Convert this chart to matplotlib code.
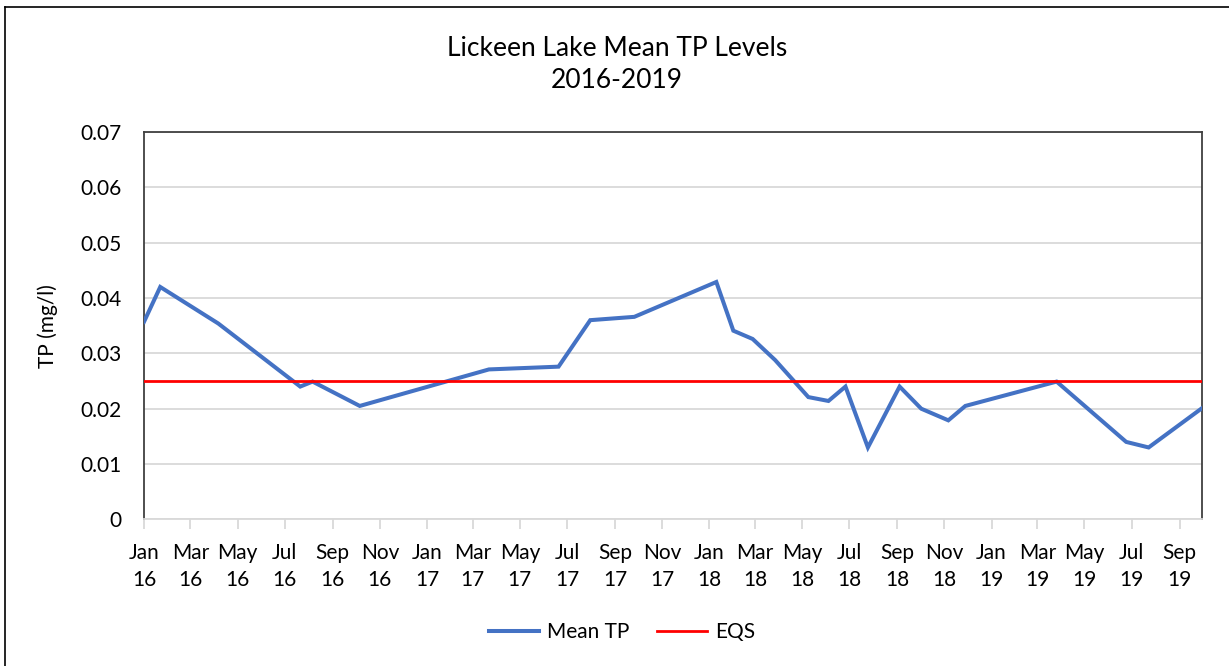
import matplotlib
matplotlib.use("Agg")
import matplotlib.pyplot as plt
import pandas as pd
from matplotlib.lines import Line2D

plt.rcParams["font.family"] = ["Lato", "DejaVu Sans"]

# ----------------------- data -----------------------
sample_dates = [
    "2016-01-01", "2016-01-22", "2016-04-06", "2016-07-21", "2016-08-06",
    "2016-10-06", "2017-03-22", "2017-06-20", "2017-07-31", "2017-09-26",
    "2018-01-10", "2018-02-01", "2018-02-26", "2018-03-27", "2018-05-09",
    "2018-06-04", "2018-06-26", "2018-07-25", "2018-09-04", "2018-10-02",
    "2018-11-06", "2018-11-28", "2019-03-26", "2019-06-24", "2019-07-23",
    "2019-09-30",
]
mean_tp = [
    0.0357, 0.042, 0.0354, 0.024, 0.0249,
    0.0205, 0.0271, 0.0276, 0.036, 0.0366,
    0.0429, 0.0341, 0.0326, 0.0288, 0.0221,
    0.0214, 0.024, 0.013, 0.024, 0.020,
    0.0179, 0.0205, 0.0249, 0.014, 0.013,
    0.0201,
]
eqs_level = 0.025
y_ticks = [0, 0.01, 0.02, 0.03, 0.04, 0.05, 0.06, 0.07]
y_tick_labels = ["0", "0.01", "0.02", "0.03", "0.04", "0.05", "0.06", "0.07"]

dates = pd.to_datetime(sample_dates)
W, H = 1229, 666

# ----------------------- plot -----------------------
fig = plt.figure(figsize=(W / 100, H / 100), dpi=100)
ax = fig.add_axes([144 / W, 1 - 519.4 / H, (1202 - 144) / W, (519.4 - 132) / H])

ax.plot(dates, mean_tp, color="#4472C4", lw=2.9, solid_joinstyle="miter",
        zorder=3)
ax.plot([dates[0], dates[-1]], [eqs_level, eqs_level], color="#FF0000",
        lw=2.0, zorder=4)

ax.set_xlim(dates[0], dates[-1])
ax.set_ylim(0, 0.07)
ax.set_yticks(y_ticks)
ax.set_yticklabels(y_tick_labels)
ax.yaxis.grid(True, color="#D9D9D9", lw=1.3)
ax.set_axisbelow(True)

ticks = pd.date_range("2016-01-01", "2019-09-01", freq="2MS")
ax.set_xticks(ticks)
ax.set_xticklabels([d.strftime("%b\n%y") for d in ticks], linespacing=1.45)

for side in ["top", "left", "right"]:
    ax.spines[side].set_color("#404040")
    ax.spines[side].set_linewidth(1.3)
ax.spines["bottom"].set_color("#D9D9D9")
ax.spines["bottom"].set_linewidth(1.3)

ax.tick_params(axis="y", length=0, pad=16, labelsize=15, labelcolor="#000000")
ax.tick_params(axis="x", length=7, width=1.3, color="#D9D9D9", pad=10,
               labelsize=15, labelcolor="#000000")

ax.set_ylabel("TP (mg/l)", fontsize=15, labelpad=16)

fig.text(617 / W, 1 - 48 / H, "Lickeen Lake Mean TP Levels",
         ha="center", va="center", fontsize=19)
fig.text(617 / W, 1 - 81 / H, "2016-2019",
         ha="center", va="center", fontsize=19)

handles = [Line2D([], [], color="#4472C4", lw=2.9),
           Line2D([], [], color="#FF0000", lw=2.0)]
fig.legend(handles, ["Mean TP", "EQS"], loc="center",
           bbox_to_anchor=(622 / W, 1 - 632 / H), ncol=2, frameon=False,
           fontsize=15, handlelength=2.4, handletextpad=0.4, columnspacing=1.3)

# outer chart border (only left and top visible in the cropped reference)
fig.add_artist(Line2D([5 / W, 5 / W], [0, 1 - 7 / H],
                      transform=fig.transFigure, color="#000000", lw=1.2))
fig.add_artist(Line2D([5 / W, 1], [1 - 7 / H, 1 - 7 / H],
                      transform=fig.transFigure, color="#000000", lw=1.2))

fig.savefig("out.png", dpi=100)
